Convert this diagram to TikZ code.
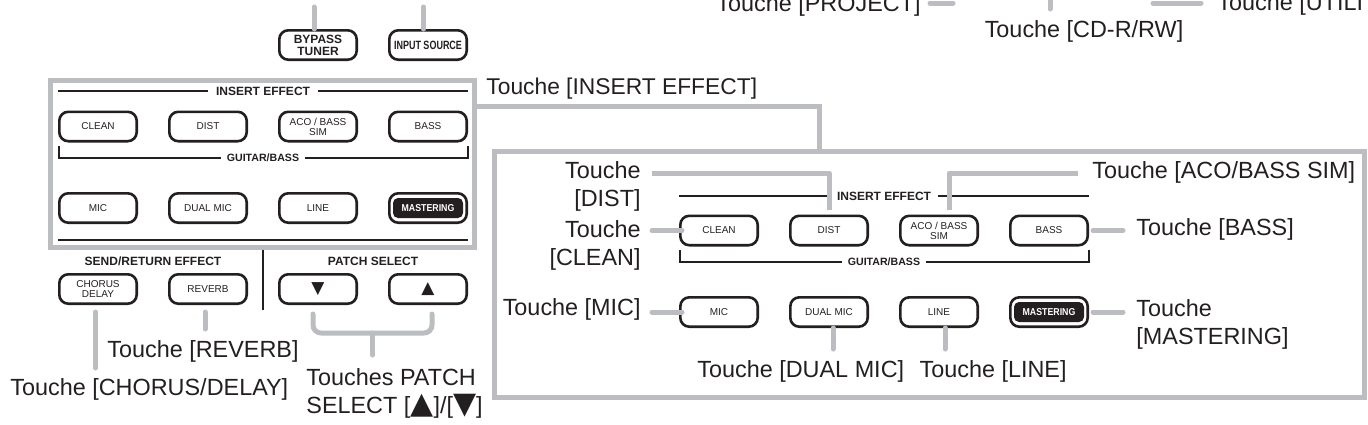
\documentclass[tikz,border=0pt]{standalone}
\usepackage{fontspec}
\setmainfont{Liberation Sans}
\newfontfamily\symfont{DejaVu Sans}
\definecolor{ink}{HTML}{231F20}
\definecolor{leadgray}{HTML}{BCBDC0}
\tikzset{
    btn/.style={draw=ink, line width=1.3pt, rounded corners=4.5pt, minimum width=38.7pt, minimum height=14.7pt,
        inner sep=0pt, align=center, text=ink, font=\fontsize{5}{5}\selectfont},
    btnbig/.style={btn, font=\fontsize{6}{6}\selectfont\bfseries},
    btnsym/.style={btn, font=\fontsize{8.5}{9}\selectfont\symfont},
    inverse/.style={fill=ink, rounded corners=2.5pt, minimum width=35pt, minimum height=10pt, inner sep=0pt,
        text=white, font=\fontsize{5}{5}\selectfont\bfseries},
    head/.style={inner sep=4pt, text=ink, font=\fontsize{6}{7}\selectfont\bfseries},
    subhead/.style={inner sep=2.5pt, text=ink, font=\fontsize{5.3}{6}\selectfont\bfseries},
    lbl/.style={inner sep=0pt, text=ink, font=\fontsize{11.7}{14}\selectfont},
    lead/.style={draw=leadgray, line width=2.5pt, line cap=round, line join=round},
    boxline/.style={draw=leadgray, line width=2.5pt},
    rule/.style={draw=ink, line width=1pt}
}
\begin{document}
\begin{tikzpicture}[x=0.5pt, y=-0.5pt]
            \useasboundingbox (0,0) rectangle (1368,424);
            \clip (0,0) rectangle (1368,424);

            % top row, cut by the page edge
            \node[lbl, anchor=base east] (projectlbl) at (921,11) {Touche [PROJECT]};
            \node[lbl, anchor=base] (cdrwlbl) at (1084,37) {Touche [CD-R/RW]};
            \node[lbl, anchor=base west] (utilitylbl) at (1217,10) {Touche [UTILITY]};
            \coordinate (projecta) at (930,3);
            \coordinate (projectb) at (953,3);
            \coordinate (cdrwa) at (1050,-3);
            \coordinate (cdrwb) at (1050,9);
            \coordinate (utilitya) at (1153,3);
            \coordinate (utilityb) at (1201,3);
            \draw[lead] (projecta) -- (projectb);
            \draw[lead] (cdrwa) -- (cdrwb);
            \draw[lead] (utilitya) -- (utilityb);

            % buttons over the panel
            \node[btnbig] (bypass) at (318,45) {BYPASS\\TUNER};
            \node[btnbig] (input) at (428,45) {\scalebox{.75}[1]{INPUT SOURCE}};
            \coordinate (bypasstop) at (314,7);
            \coordinate (inputtop) at (423.5,7);
            \draw[lead] (bypasstop) -- (bypasstop |- bypass.north);
            \draw[lead] (inputtop) -- (inputtop |- input.north);

            % panel
            \node[boxline, minimum width=212.2pt, minimum height=83.2pt, inner sep=0pt] (panel) at (262.3,164) {};
            \node[btn] (clean) at (98,126.5) {CLEAN};
            \node[btn] (dist) at (208,126.5) {DIST};
            \node[btn] (aco) at (318,126.5) {ACO / BASS\\SIM};
            \node[btn] (bass) at (428,126.5) {BASS};
            \node[btn] (mic) at (98,208) {MIC};
            \node[btn] (dualmic) at (208,208) {DUAL MIC};
            \node[btn] (line) at (318,208) {LINE};
            \node[btn] (mastering) at (428,208) {};
            \node[inverse] (masteringtxt) at (mastering) {\scalebox{.88}[1]{MASTERING}};

            \node[head] (insert) at (263,91) {INSERT EFFECT};
            \draw[rule] (clean.west |- insert) -- (insert.west);
            \draw[rule] (insert.east) -- (bass.east |- insert);

            \node[subhead] (guitar) at (263,158) {GUITAR/BASS};
            \coordinate (guitarl) at (58.5,146);
            \coordinate (guitarr) at (467.5,146);
            \draw[rule] (guitarl) -- (guitarl |- guitar) -- (guitar.west);
            \draw[rule] (guitarr) -- (guitarr |- guitar) -- (guitar.east);

            \coordinate (panelrule) at (58,240);
            \draw[rule] (panelrule) -- (panelrule -| bass.east);

            % under the panel
            \coordinate (dividerbot) at (263,310);
            \draw[rule] (dividerbot |- panel.south) -- (dividerbot);
            \node[head, inner sep=0pt] (send) at (153,261) {SEND/RETURN EFFECT};
            \node[head, inner sep=0pt] (patch) at (373,261) {PATCH SELECT};
            \node[btn] (chorus) at (98,289) {CHORUS\\DELAY};
            \node[btn] (reverb) at (208,289) {REVERB};
            \node[btnsym] (down) at (318,289) {▼};
            \node[btnsym] (up) at (428,289) {▲};

            \node[lbl, anchor=base] (reverblbl) at (203,357) {Touche [REVERB]};
            \node[lbl, anchor=base west] (choruslbl) at (10,395) {Touche [CHORUS/DELAY]};
            \node[lbl, anchor=base west, align=left] (patchlbl) at (306,413)
                {Touches PATCH\\SELECT [{\fontsize{15}{14}\symfont ▲}]/[{\fontsize{15}{14}\symfont ▼}]};

            \coordinate (chorusa) at (95.5,312);
            \coordinate (chorusb) at (95.5,368);
            \coordinate (reverba) at (205,312);
            \coordinate (reverbb) at (205,329);
            \draw[lead] (chorusa) -- (chorusb);
            \draw[lead] (reverba) -- (reverbb);

            % bracket of the two patch buttons
            \coordinate (patchl) at (313,314);
            \coordinate (patchr) at (432,314);
            \coordinate (patchmid) at (372.5,333);
            \coordinate (patchend) at (372.5,355);
            \draw[lead, rounded corners=4pt] (patchl) -- (patchl |- patchmid) -- (patchr |- patchmid) -- (patchr);
            \draw[lead] (patchmid) -- (patchend);

            % big inset
            \node[lbl, anchor=base west, font=\fontsize{11.4}{14}\selectfont] (insertlbl) at (486,94) {Touche [INSERT EFFECT]};
            \node[boxline, minimum width=434.8pt, minimum height=123.2pt, inner sep=0pt] (inset) at (929.2,274.7) {};
            \coordinate (insertturn) at (819.5,106.5);
            \draw[boxline, line join=miter] (panel.east |- insertturn) -- (insertturn) -- (insertturn |- inset.north);

            \node[btn] (cleanb) at (719,230.5) {CLEAN};
            \node[btn] (distb) at (829,230.5) {DIST};
            \node[btn] (acob) at (939,230.5) {ACO / BASS\\SIM};
            \node[btn] (bassb) at (1049,230.5) {BASS};
            \node[btn] (micb) at (719,312) {MIC};
            \node[btn] (dualmicb) at (829,312) {DUAL MIC};
            \node[btn] (lineb) at (939,312) {LINE};
            \node[btn] (masteringb) at (1049,312) {};
            \node[inverse] (masteringbtxt) at (masteringb) {\scalebox{.88}[1]{MASTERING}};

            \node[head, inner sep=3.5pt] (insertb) at (884,196) {INSERT EFFECT};
            \draw[rule] (cleanb.west |- insertb) -- (insertb.west);
            \draw[rule] (insertb.east) -- (bassb.east |- insertb);

            \node[subhead] (guitarb) at (884,262) {GUITAR/BASS};
            \coordinate (guitarbl) at (679.5,250);
            \coordinate (guitarbr) at (1088.5,250);
            \draw[rule] (guitarbl) -- (guitarbl |- guitarb) -- (guitarb.west);
            \draw[rule] (guitarbr) -- (guitarbr |- guitarb) -- (guitarb.east);

            % inset labels
            \node[lbl, anchor=base east, align=right] (distlbl) at (641,206) {Touche\\[0pt][DIST]};
            \node[lbl, anchor=base east, align=right] (cleanlbl) at (641,265) {Touche\\[0pt][CLEAN]};
            \node[lbl, anchor=base east] (miclbl) at (641,315) {Touche [MIC]};
            \node[lbl, anchor=base west] (acolbl) at (1092,178) {Touche [ACO/BASS SIM]};
            \node[lbl, anchor=base west] (basslbl) at (1136,235) {Touche [BASS]};
            \node[lbl, anchor=base west, align=left] (masteringlbl) at (1136,344) {Touche\\[0pt][MASTERING]};
            \node[lbl, anchor=base west] (dualmiclbl) at (697,377) {Touche [DUAL MIC]};
            \node[lbl, anchor=base east] (linelbl) at (1067,377) {Touche [LINE]};

            % inset leaders
            \coordinate (distend) at (652,173);
            \coordinate (distdrop) at (829,210);
            \draw[lead, line cap=butt] (distend) -- (distdrop |- distend) -- (distdrop);
            \coordinate (acoend) at (1078,173);
            \coordinate (acodrop) at (949,210);
            \draw[lead, line cap=butt] (acoend) -- (acodrop |- acoend) -- (acodrop);
            \coordinate (cleanend) at (652,230.5);
            \coordinate (micend) at (652,312);
            \draw[lead] (cleanend) -- ([xshift=1.5pt]cleanb.west);
            \draw[lead] (micend) -- ([xshift=1.5pt]micb.west);
            \coordinate (bassend) at (1123,230.5);
            \coordinate (masteringend) at (1123,312);
            \draw[lead] ([xshift=2pt]bassb.east) -- (bassend);
            \draw[lead] ([xshift=2pt]masteringb.east) -- (masteringend);
            \coordinate (dualend) at (833,349);
            \coordinate (lineend) at (945,349);
            \draw[lead] (dualend |- dualmicb.south) -- (dualend);
            \draw[lead] (lineend |- lineb.south) -- (lineend);
        \end{tikzpicture}
\end{document}
